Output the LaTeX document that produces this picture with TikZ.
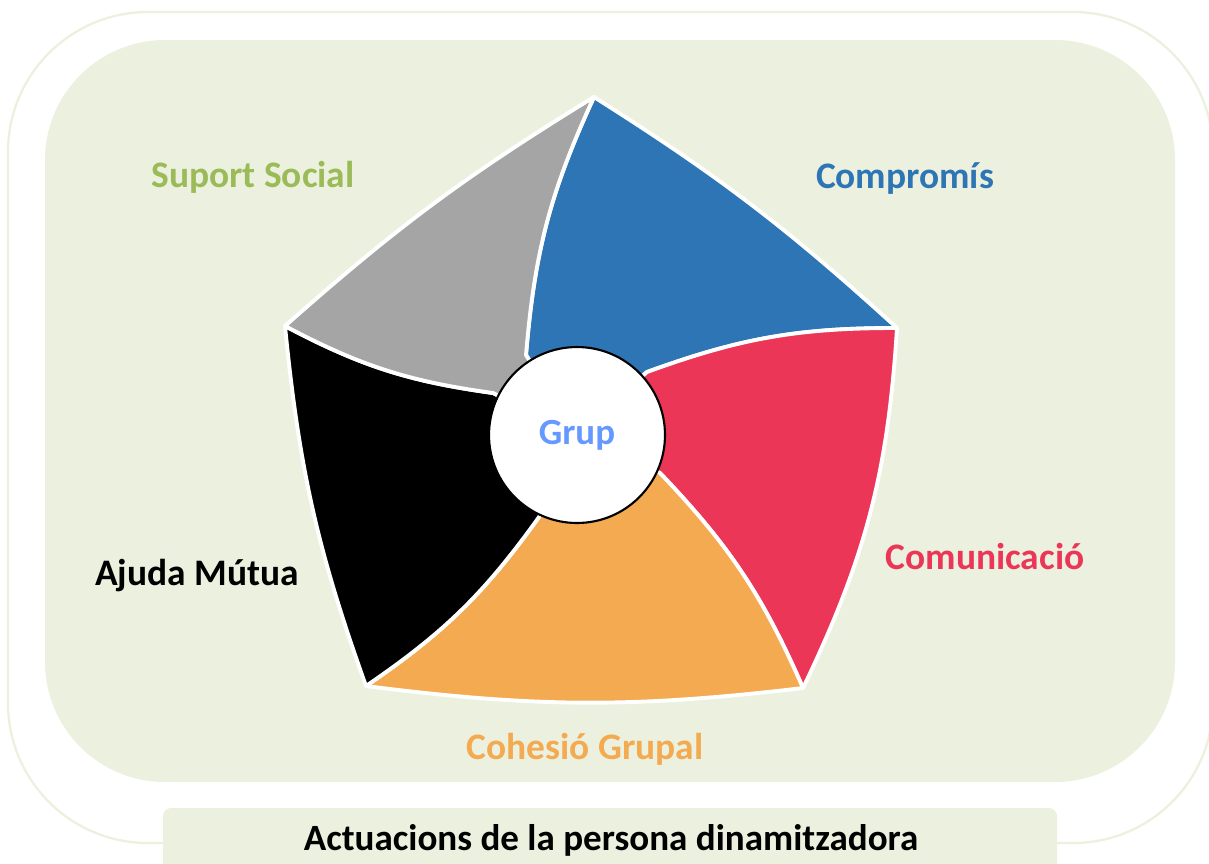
\documentclass[tikz,border=0pt]{standalone}
\usepackage{fontspec}
\setmainfont{Carlito}
\usepackage{tikz}
\usetikzlibrary{positioning}
\definecolor{framegreen}{HTML}{EBF1DE}
\definecolor{segblue}{HTML}{2E75B6}
\definecolor{segred}{HTML}{EB3657}
\definecolor{segorange}{HTML}{F4AA51}
\definecolor{seggray}{HTML}{A5A5A5}
\definecolor{socialgreen}{HTML}{9BBB59}
\definecolor{grupblue}{HTML}{6699FF}

\begin{document}
\begin{tikzpicture}[
    x=0.02cm, y=-0.02cm,
    frame/.style={draw=framegreen, line width=1.3pt, rounded corners=2.8cm},
    panel/.style={fill=framegreen, rounded corners=2.4cm},
    titlebox/.style={fill=framegreen, rounded corners=0.16cm},
    segment/.style={draw=white, line width=2.2pt, line join=round},
    hub/.style={circle, draw=black, line width=1.2pt, fill=white, minimum size=3.52cm,
                text=grupblue, font=\fontsize{21}{25}\selectfont\bfseries},
    seglabel/.style={font=\fontsize{21.3}{25}\selectfont\bfseries}
]
\useasboundingbox (0,0) rectangle (1209,863);

% Background frame and panel
\draw[frame] (8,12) rectangle (1213,843);
\fill[panel] (45,40) rectangle (1175,782);
\fill[titlebox] (163,808) rectangle (1057,880);
\node[font=\fontsize{21.1}{25}\selectfont\bfseries] (actuacions) at (611,840) {Actuacions de la persona dinamitzadora};

% Pentagon corners and hub contact points
\coordinate (c) at (577,435);
\coordinate (top) at (594,97);
\coordinate (right) at (897,328);
\coordinate (botright) at (803,688);
\coordinate (botleft) at (366,686);
\coordinate (left) at (285,326);
\coordinate (a1) at (526,355);
\coordinate (a2) at (647,372);
\coordinate (a3) at (660,473);
\coordinate (a4) at (539,517);
\coordinate (a5) at (493,393);

% Segments - clockwise from the top
\filldraw[segment, fill=segblue] (a1) to[bend left=10] (top) to[bend left=5] (right)
    to[bend right=10] (a2) -- (c) -- cycle;
\filldraw[segment, fill=segred] (a2) to[bend left=10] (right) to[bend left=11] (botright)
    to[bend right=10] (a3) -- (c) -- cycle;
\filldraw[segment, fill=segorange] (a3) to[bend left=10] (botright) to[bend left=7] (botleft)
    to[bend right=10] (a4) -- (c) -- cycle;
\filldraw[segment, fill=black] (a4) to[bend left=10] (botleft) to[bend left=7] (left)
    to[bend right=10] (a5) -- (c) -- cycle;
\filldraw[segment, fill=seggray] (a5) to[bend left=10] (left) to[bend left=5] (top)
    to[bend right=10] (a1) -- (c) -- cycle;

% Hub
\node[hub] (grup) at (c) {Grup};

% Labels
\node[seglabel, text=segblue] (compromis) at (905,179) {Compromís};
\node[seglabel, text=segred] (comunicacio) at (985,556) {Comunicació};
\node[seglabel, text=segorange] (cohesio) at (585,749) {Cohesió Grupal};
\node[seglabel, text=black] (ajuda) at (197,576) {Ajuda Mútua};
\node[seglabel, text=socialgreen] (suport) at (253,177) {Suport Social};

\end{tikzpicture}
\end{document}
